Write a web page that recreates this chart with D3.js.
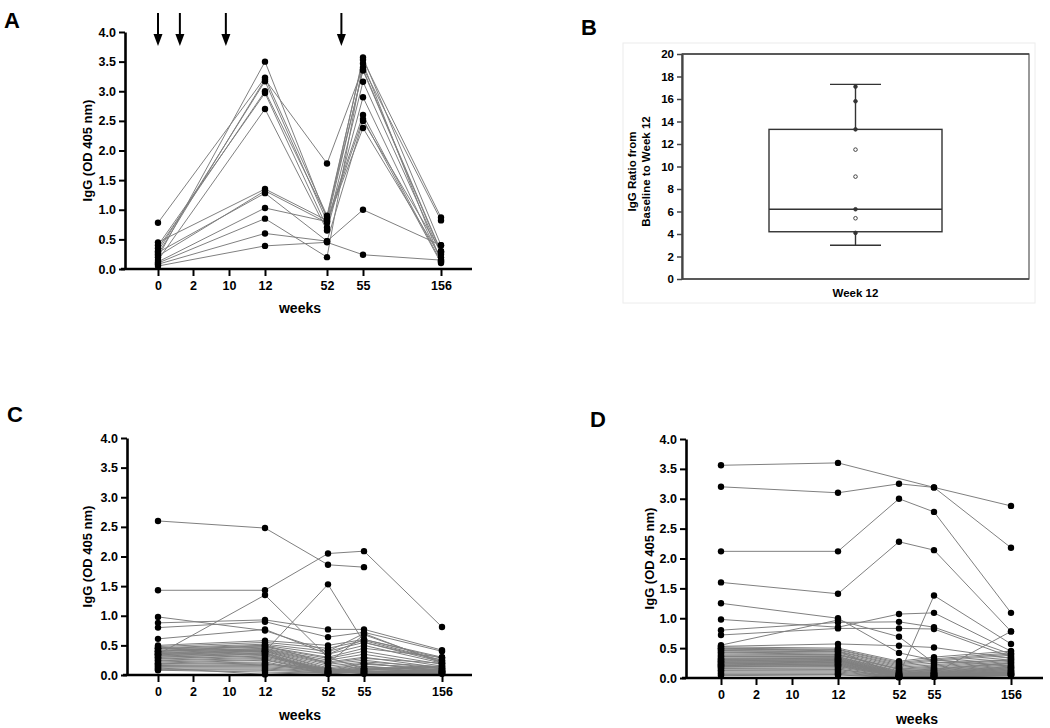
<!DOCTYPE html>
<html><head><meta charset="utf-8">
<script src="https://cdn.jsdelivr.net/npm/d3@7/dist/d3.min.js"></script>
<style>
body{margin:0;background:#fff;}
svg{display:block;}
text{font-family:"Liberation Sans",Arial,sans-serif;font-weight:bold;fill:#000;}
</style></head>
<body>
<svg id="chart" width="1050" height="728"></svg>
<script>
// ---------------- DATA ----------------
const weekTicks = [0, 2, 10, 12, 52, 55, 156];
const sampleWeeks = [0, 12, 52, 55, 156];
const yTicks = [0, 0.5, 1.0, 1.5, 2.0, 2.5, 3.0, 3.5, 4.0];
const arrowWeeks = [0, 1.25, 9.3, 53.2];

// Panel A: one row per subject, values at weeks 0, 12, 52, 55, 156
const subjectsA = [
  [0.20, 3.50, 0.85, 3.57, 0.40],
  [0.78, 3.23, 0.90, 3.53, 0.87],
  [0.25, 3.20, 1.78, 3.40, 0.82],
  [0.30, 3.17, 0.80, 3.37, 0.30],
  [0.35, 3.00, 0.88, 3.35, 0.28],
  [0.40, 2.97, 0.70, 3.16, 0.25],
  [0.15, 2.70, 0.65, 2.90, 0.15],
  [0.45, 1.35, 0.82, 2.60, 0.12],
  [0.22, 1.32, 0.78, 2.53, 0.10],
  [0.28, 1.28, 0.47, 2.50, 0.30],
  [0.12, 1.03, 0.80, 2.38, 0.20],
  [0.10, 0.85, 0.20, 3.47, 0.13],
  [0.08, 0.60, 0.47, 1.00, 0.40],
  [0.05, 0.39, 0.45, 0.24, 0.15]
];

// Panel B: box plot of IgG ratio baseline -> week 12
const boxLabels = ["Week 12"];
const boxWhiskerLow = [3.0];
const boxQ1 = [4.2];
const boxMedian = [6.2];
const boxQ3 = [13.3];
const boxWhiskerHigh = [17.3];
const ratioPoints = [17.1, 15.8, 13.3, 11.5, 9.1, 6.2, 5.4, 4.1];
const ratioFilled = [1, 1, 1, 0, 0, 1, 0, 1];
const bTicks = [0, 2, 4, 6, 8, 10, 12, 14, 16, 18, 20];

// Panel C
const subjectsC = [
  [2.60, 2.48, 1.86, 1.82, null],
  [1.43, 1.43, 2.05, 2.09, 0.81],
  [0.35, 1.35, 0.30, 0.10, 0.15],
  [0.98, 0.75, 0.40, 0.70, 0.20],
  [0.88, 0.93, 0.77, 0.77, 0.42],
  [0.80, 0.90, 0.64, 0.72, 0.40],
  [0.61, 0.77, 0.35, 0.60, 0.28],
  [0.45, 0.40, 1.53, 0.55, 0.25],
  [0.12, 0.01, 0.05, 0.03, 0.05],
  [0.50, 0.58, 0.50, 0.60, 0.30],
  [0.48, 0.55, 0.45, 0.58, 0.25],
  [0.46, 0.52, 0.40, 0.55, 0.22],
  [0.45, 0.50, 0.35, 0.50, 0.20],
  [0.44, 0.48, 0.30, 0.45, 0.30],
  [0.42, 0.47, 0.28, 0.40, 0.18],
  [0.40, 0.45, 0.25, 0.35, 0.15],
  [0.40, 0.44, 0.22, 0.30, 0.12],
  [0.38, 0.43, 0.20, 0.28, 0.20],
  [0.37, 0.42, 0.18, 0.25, 0.10],
  [0.36, 0.41, 0.15, 0.22, 0.14],
  [0.35, 0.40, 0.12, 0.20, 0.08],
  [0.34, 0.40, 0.10, 0.18, 0.12],
  [0.33, 0.38, 0.08, 0.15, 0.06],
  [0.32, 0.37, 0.06, 0.12, 0.10],
  [0.30, 0.36, 0.05, 0.10, 0.05],
  [0.30, 0.35, 0.04, 0.08, 0.09],
  [0.28, 0.33, 0.03, 0.06, 0.04],
  [0.27, 0.32, 0.10, 0.05, 0.07],
  [0.25, 0.30, 0.08, 0.04, 0.03],
  [0.24, 0.28, 0.06, 0.12, 0.12],
  [0.22, 0.26, 0.05, 0.10, 0.06],
  [0.20, 0.25, 0.04, 0.08, 0.15],
  [0.19, 0.22, 0.03, 0.06, 0.05],
  [0.18, 0.20, 0.02, 0.05, 0.08],
  [0.16, 0.18, 0.12, 0.04, 0.04],
  [0.15, 0.16, 0.10, 0.03, 0.10],
  [0.14, 0.14, 0.08, 0.02, 0.03],
  [0.12, 0.12, 0.06, 0.20, 0.06],
  [0.10, 0.10, 0.05, 0.15, 0.02],
  [0.09, 0.08, 0.04, 0.10, 0.05],
  [0.08, 0.05, 0.03, 0.07, 0.03],
  [0.40, 0.50, 0.20, 0.68, 0.22]
];

// Panel D
const subjectsD = [
  [3.56, 3.60, null, 3.19, 2.88],
  [3.20, 3.10, 3.25, 3.19, 2.18],
  [2.12, 2.12, 3.00, 2.78, 1.09],
  [1.60, 1.41, 2.28, 2.14, 0.78],
  [1.25, 1.00, 0.42, 0.30, 0.20],
  [0.98, 0.85, 1.07, 1.09, 0.45],
  [0.80, 0.93, 0.94, 0.85, 0.40],
  [0.72, 0.83, 0.83, 0.82, 0.35],
  [0.55, 0.97, 0.69, 0.25, 0.30],
  [0.53, 0.57, 0.54, 0.51, 0.33],
  [0.50, 0.45, 0.05, 1.38, 0.57],
  [0.20, 0.30, 0.03, 0.08, 0.78],
  [0.52, 0.50, 0.28, 0.35, 0.45],
  [0.50, 0.48, 0.26, 0.32, 0.42],
  [0.48, 0.47, 0.24, 0.30, 0.40],
  [0.46, 0.45, 0.22, 0.28, 0.38],
  [0.45, 0.44, 0.20, 0.25, 0.35],
  [0.43, 0.42, 0.18, 0.22, 0.32],
  [0.42, 0.40, 0.16, 0.20, 0.30],
  [0.40, 0.39, 0.15, 0.18, 0.28],
  [0.38, 0.38, 0.14, 0.16, 0.26],
  [0.36, 0.36, 0.12, 0.15, 0.25],
  [0.35, 0.35, 0.11, 0.14, 0.24],
  [0.33, 0.34, 0.10, 0.13, 0.22],
  [0.32, 0.33, 0.09, 0.12, 0.20],
  [0.31, 0.32, 0.08, 0.11, 0.19],
  [0.30, 0.31, 0.08, 0.10, 0.18],
  [0.29, 0.30, 0.07, 0.09, 0.17],
  [0.28, 0.29, 0.07, 0.09, 0.16],
  [0.27, 0.28, 0.06, 0.08, 0.15],
  [0.26, 0.27, 0.06, 0.08, 0.14],
  [0.25, 0.26, 0.05, 0.07, 0.13],
  [0.24, 0.25, 0.05, 0.07, 0.12],
  [0.23, 0.24, 0.05, 0.06, 0.11],
  [0.22, 0.23, 0.04, 0.06, 0.10],
  [0.21, 0.22, 0.04, 0.05, 0.10],
  [0.20, 0.21, 0.04, 0.05, 0.09],
  [0.19, 0.20, 0.03, 0.05, 0.08],
  [0.18, 0.19, 0.03, 0.04, 0.08],
  [0.16, 0.17, 0.03, 0.04, 0.07],
  [0.15, 0.15, 0.02, 0.04, 0.07],
  [0.13, 0.14, 0.02, 0.03, 0.06],
  [0.12, 0.12, 0.02, 0.03, 0.06],
  [0.10, 0.10, 0.02, 0.03, 0.05],
  [0.08, 0.08, 0.02, 0.02, 0.05],
  [0.06, 0.06, 0.02, 0.02, 0.04],
  [0.04, 0.05, 0.01, 0.02, 0.04]
];

// ---------------- DRAWING ----------------
const svg = d3.select("#chart");

function drawPanel(cfg) {
  const g = svg.append("g");
  const x = d3.scaleLinear().domain(weekTicks).range(cfg.xPos);
  const y = d3.scaleLinear().domain([0, 4]).range([cfg.y0, cfg.y1]);

  const line = d3.line()
    .defined(d => d[1] != null)
    .x(d => x(d[0])).y(d => y(d[1]));
  cfg.data.forEach(row => {
    const pts = sampleWeeks.map((w, i) => [w, row[i]]).filter(p => p[1] != null);
    g.append("path").datum(pts)
      .attr("d", line)
      .attr("fill", "none")
      .attr("stroke", "#808080")
      .attr("stroke-width", 1);
  });
  cfg.data.forEach(row => {
    sampleWeeks.forEach((w, i) => {
      if (row[i] == null) return;
      g.append("circle").attr("cx", x(w)).attr("cy", y(row[i])).attr("r", 3.2).attr("fill", "#000");
    });
  });

  const ya = g.append("g").attr("transform", `translate(${cfg.yAxisX},0)`)
    .call(d3.axisLeft(y).tickValues(yTicks).tickFormat(d3.format(".1f")).tickSize(6).tickPadding(3).tickSizeOuter(0));
  ya.select(".domain").attr("stroke-width", 2.6);
  ya.selectAll(".tick line").attr("stroke-width", 2);
  ya.selectAll(".tick text").attr("font-size", 12.5).attr("font-weight", "bold").attr("fill", "#000")
    .attr("font-family", '"Liberation Sans", Arial, sans-serif');

  const xa = g.append("g").attr("transform", `translate(0,${cfg.y0})`)
    .call(d3.axisBottom(x).tickValues(weekTicks).tickFormat(d3.format("d")).tickSize(7).tickPadding(5).tickSizeOuter(0));
  xa.select(".domain").attr("d", `M${cfg.yAxisX - 4},0H${cfg.xEnd}`).attr("stroke-width", 2.6);
  xa.selectAll(".tick line").attr("stroke-width", 2);
  xa.selectAll(".tick text").attr("font-size", 12.5).attr("font-weight", "bold").attr("fill", "#000")
    .attr("font-family", '"Liberation Sans", Arial, sans-serif');

  g.append("text").attr("transform", `translate(${cfg.yTitleX},${(cfg.y0 + cfg.y1) / 2}) rotate(-90)`)
    .attr("text-anchor", "middle").attr("font-size", 13).text("IgG (OD 405 nm)");
  g.append("text").attr("x", cfg.weeksX).attr("y", cfg.weeksY)
    .attr("text-anchor", "middle").attr("font-size", 14).text("weeks");
  g.append("text").attr("x", cfg.letterX).attr("y", cfg.letterY)
    .attr("font-size", 22).attr("font-family", '"Open Sans", sans-serif').attr("font-weight", "bold").text(cfg.letter);
  return {x, y, g};
}

const A = drawPanel({
  data: subjectsA, xPos: [158, 193, 229, 265, 327, 363, 441], xEnd: 472,
  y0: 269, y1: 32, yAxisX: 125, yTitleX: 92, weeksX: 300, weeksY: 313,
  letter: "A", letterX: 4, letterY: 28
});
arrowWeeks.forEach(w => {
  const ax = A.x(w);
  A.g.append("line").attr("x1", ax).attr("x2", ax).attr("y1", 13).attr("y2", 38)
    .attr("stroke", "#000").attr("stroke-width", 2);
  A.g.append("path").attr("d", `M${ax - 4.5},34L${ax + 4.5},34L${ax},46Z`).attr("fill", "#000");
});

drawPanel({
  data: subjectsC, xPos: [158, 193, 229, 265, 328, 364, 442], xEnd: 472,
  y0: 675, y1: 438, yAxisX: 127, yTitleX: 92, weeksX: 300, weeksY: 720,
  letter: "C", letterX: 7, letterY: 422
});
drawPanel({
  data: subjectsD, xPos: [721, 756, 792, 838, 899, 934, 1011], xEnd: 1043,
  y0: 678, y1: 439, yAxisX: 686, yTitleX: 654, weeksX: 917, weeksY: 724,
  letter: "D", letterX: 590, letterY: 427
});

// ---------------- PANEL B ----------------
(function () {
  const g = svg.append("g");
  g.append("text").attr("x", 581).attr("y", 35).attr("font-size", 22)
    .attr("font-family", '"Open Sans", sans-serif').attr("font-weight", "bold").text("B");
  g.append("rect").attr("x", 623).attr("y", 43).attr("width", 412).attr("height", 260)
    .attr("fill", "none").attr("stroke", "#ececec").attr("stroke-width", 1);
  const left = 682, right = 1029, top = 54, bottom = 279;
  const y = d3.scaleLinear().domain([0, 20]).range([bottom, top]);
  const x = d3.scalePoint().domain(boxLabels).range([left, right]).padding(0.5);
  g.append("rect").attr("x", left).attr("y", top).attr("width", right - left).attr("height", bottom - top)
    .attr("fill", "none").attr("stroke", "#555").attr("stroke-width", 1.2);
  g.append("line").attr("x1", left).attr("x2", right).attr("y1", top).attr("y2", top)
    .attr("stroke", "#444").attr("stroke-width", 1.6);
  const ya = g.append("g").attr("transform", `translate(${left},0)`)
    .call(d3.axisLeft(y).tickValues(bTicks).tickSize(5).tickPadding(3).tickSizeOuter(0));
  ya.select(".domain").attr("stroke", "#444").attr("stroke-width", 2.2);
  ya.selectAll(".tick line").attr("stroke", "#444").attr("stroke-width", 1.5);
  ya.selectAll(".tick text").attr("font-size", 11.5).attr("font-weight", "bold").attr("fill", "#222")
    .attr("font-family", '"Liberation Sans", Arial, sans-serif');
  g.append("line").attr("x1", left).attr("x2", right).attr("y1", bottom).attr("y2", bottom)
    .attr("stroke", "#444").attr("stroke-width", 1.6);

  const bw = 173, cw = 51;
  boxLabels.forEach((lab, i) => {
    const cx = x(lab);
    const L = (x1, y1, x2, y2) => g.append("line").attr("x1", x1).attr("y1", y1).attr("x2", x2).attr("y2", y2)
      .attr("stroke", "#333").attr("stroke-width", 1.4);
    L(cx, y(boxWhiskerHigh[i]), cx, y(boxQ3[i]));
    L(cx, y(boxWhiskerLow[i]), cx, y(boxQ1[i]));
    L(cx - cw / 2, y(boxWhiskerHigh[i]), cx + cw / 2, y(boxWhiskerHigh[i]));
    L(cx - cw / 2, y(boxWhiskerLow[i]), cx + cw / 2, y(boxWhiskerLow[i]));
    g.append("rect").attr("x", cx - bw / 2).attr("y", y(boxQ3[i])).attr("width", bw)
      .attr("height", y(boxQ1[i]) - y(boxQ3[i])).attr("fill", "none").attr("stroke", "#333").attr("stroke-width", 1.4);
    L(cx - bw / 2, y(boxMedian[i]), cx + bw / 2, y(boxMedian[i]));
    ratioPoints.forEach((v, j) => {
      g.append("circle").attr("cx", cx).attr("cy", y(v)).attr("r", 1.8)
        .attr("fill", ratioFilled[j] ? "#333" : "#fff").attr("stroke", "#333").attr("stroke-width", 0.9);
    });
    g.append("text").attr("x", cx).attr("y", 297).attr("text-anchor", "middle").attr("font-size", 11.5)
      .attr("fill", "#222").text(lab);
  });
  const t = g.append("text").attr("transform", `translate(643,${(top + bottom) / 2 + 5}) rotate(-90)`)
    .attr("text-anchor", "middle").attr("font-size", 11.5).attr("fill", "#222");
  t.append("tspan").attr("x", 0).attr("dy", "-0.6em").text("IgG Ratio from");
  t.append("tspan").attr("x", 0).attr("dy", "1.2em").text("Baseline to Week 12");
})();
</script>
</body></html>
